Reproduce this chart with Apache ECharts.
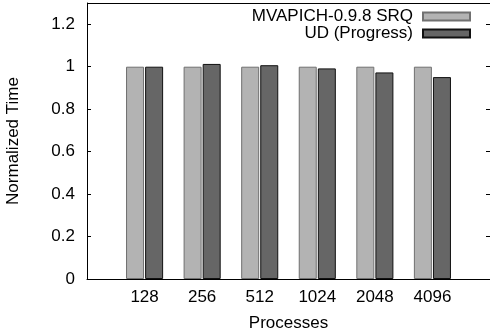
<!DOCTYPE html>
<html>
<head>
<meta charset="utf-8">
<script src="https://cdn.jsdelivr.net/npm/echarts@6/dist/echarts.min.js"></script>
<style>
  html, body { margin: 0; padding: 0; background: #fff; }
  #chart { width: 490px; height: 332px; }
</style>
</head>
<body>
<div id="chart"></div>
<script>
var processes = ['128', '256', '512', '1024', '2048', '4096'];
var srqTime = [1.0, 1.0, 1.0, 1.0, 1.0, 1.0];
var udTime = [1.0, 1.013, 1.007, 0.992, 0.973, 0.951];
var yTicks = [0, 0.2, 0.4, 0.6, 0.8, 1, 1.2];

var chart = echarts.init(document.getElementById('chart'));
var font = 'Liberation Sans, Arial, sans-serif';

// bars sit on integer x positions, axis runs from -1 to 6 like the gnuplot original
function toPoints(vals) {
  return vals.map(function (v, i) { return [i, v]; });
}

chart.setOption({
  animation: false,
  textStyle: { fontFamily: font },
  grid: { left: 87, right: 0, top: 3, bottom: 53, outerBoundsMode: 'none' },
  legend: {
    orient: 'vertical',
    right: 14,
    top: 3,
    align: 'right',
    icon: 'rect',
    itemWidth: 47,
    itemHeight: 8,
    itemGap: 0,
    textStyle: { fontSize: 17, lineHeight: 17, color: '#000', fontFamily: font, padding: [0, 5, 0, 0] }
  },
  xAxis: {
    type: 'value',
    min: -1,
    max: 6,
    interval: 1,
    name: 'Processes',
    nameLocation: 'middle',
    nameGap: 36,
    nameTextStyle: { fontSize: 17, color: '#000' },
    axisLine: { show: true, onZero: false, lineStyle: { color: '#000', width: 1 } },
    axisTick: { show: false },
    splitLine: { show: false },
    axisLabel: {
      fontSize: 17,
      color: '#000',
      margin: 10,
      formatter: function (v) { return processes[v] || ''; }
    }
  },
  yAxis: [{
    type: 'value',
    min: 0,
    max: 1.3,
    interval: 0.2,
    name: 'Normalized Time',
    nameLocation: 'middle',
    nameGap: 65,
    nameTextStyle: { fontSize: 17, color: '#000' },
    axisLine: { show: true, onZero: false, lineStyle: { color: '#000', width: 1 } },
    axisTick: { show: true, inside: true, length: 4, lineStyle: { color: '#000' } },
    splitLine: { show: false },
    axisLabel: {
      fontSize: 17,
      color: '#000',
      margin: 12,
      showMaxLabel: false,
      formatter: function (v) { return yTicks.indexOf(Math.round(v * 10) / 10) >= 0 ? String(Math.round(v * 10) / 10) : ''; }
    }
  }, {
    type: 'value',
    position: 'right',
    min: 0,
    max: 1.3,
    interval: 0.2,
    axisLine: { show: true, onZero: false, lineStyle: { color: '#000', width: 1 } },
    axisTick: { show: true, inside: true, length: 4, lineStyle: { color: '#000' } },
    axisLabel: { show: false },
    splitLine: { show: false }
  }],
  graphic: [{
    type: 'line',
    shape: { x1: 87, y1: 3.5, x2: 490, y2: 3.5 },
    style: { stroke: '#000', lineWidth: 1 }
  }],
  series: [{
    name: 'MVAPICH-0.9.8 SRQ',
    type: 'bar',
    data: toPoints(srqTime),
    barWidth: 18,
    barGap: '6%',
    itemStyle: { color: '#b3b3b3', borderColor: '#707070', borderWidth: 1, borderRadius: 0 }
  }, {
    name: 'UD (Progress)',
    type: 'bar',
    data: toPoints(udTime),
    barWidth: 18,
    barGap: '6%',
    itemStyle: { color: '#666666', borderColor: '#111111', borderWidth: 1, borderRadius: 0 }
  }]
});
</script>
</body>
</html>
